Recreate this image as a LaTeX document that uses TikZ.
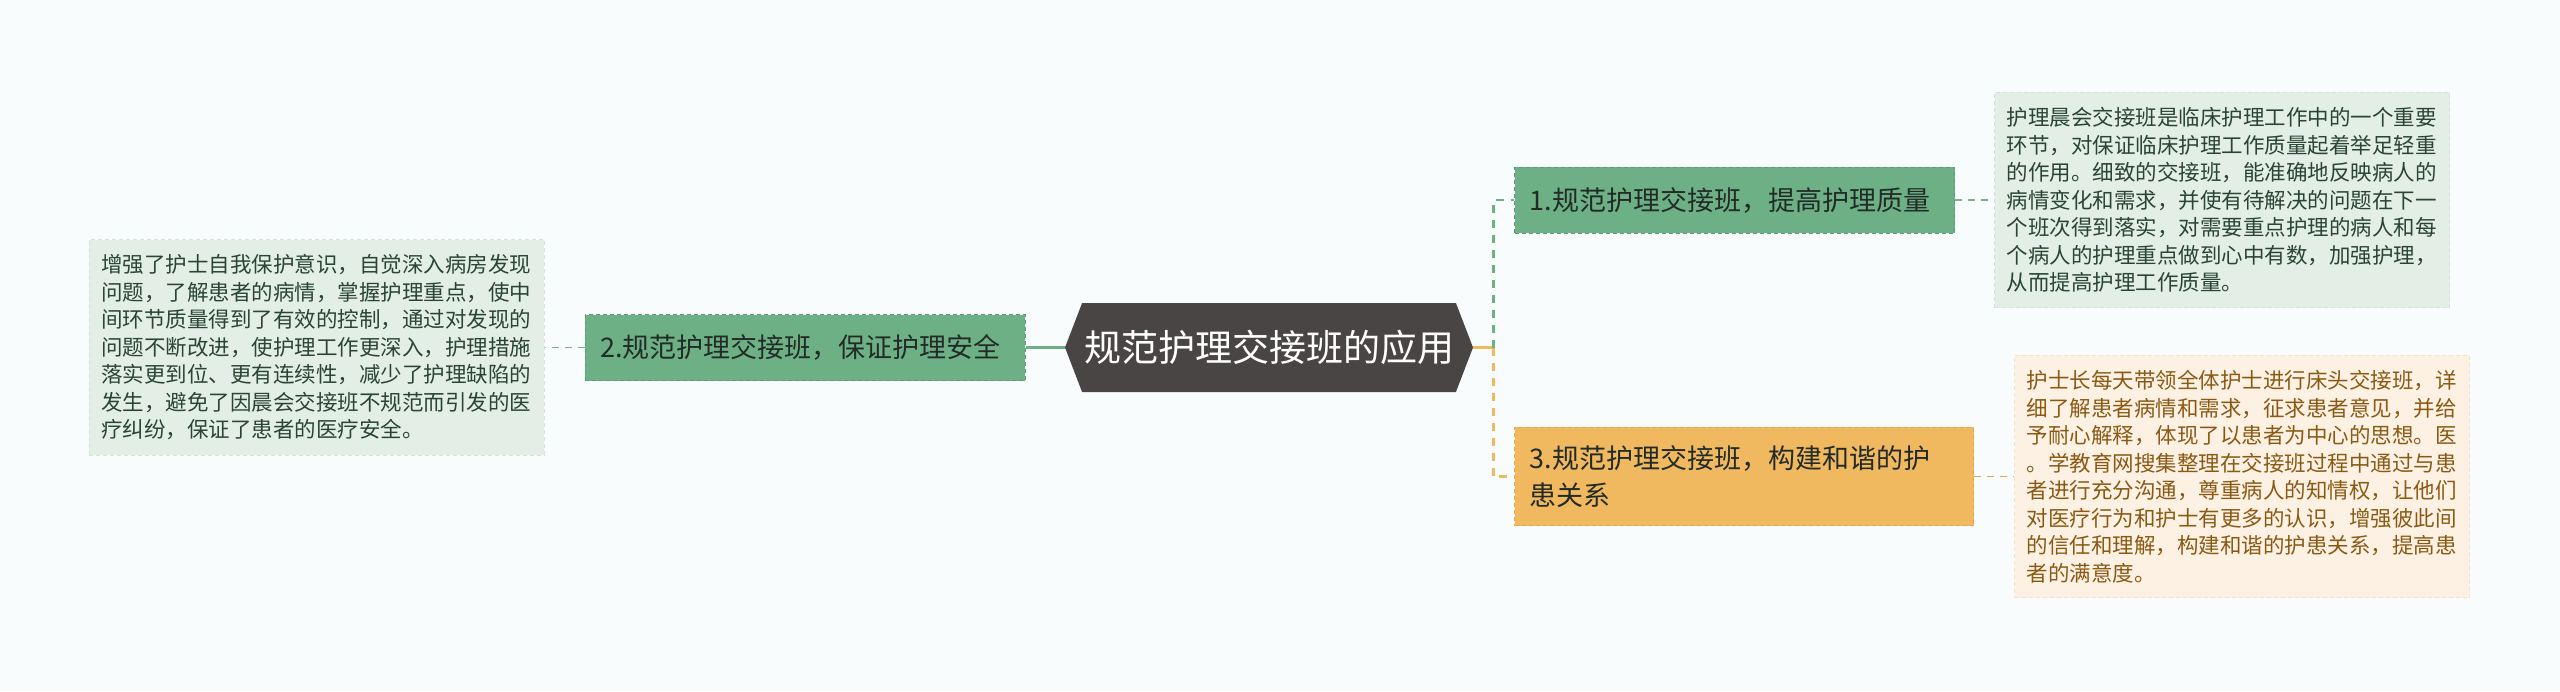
\documentclass[tikz,border=0pt]{standalone}
\usepackage{fontspec}
\setmainfont{Noto Sans CJK SC}
\usetikzlibrary{positioning,shapes.symbols,calc}
\definecolor{cbg}{HTML}{F9FCFD}
\definecolor{croot}{HTML}{4A4545}
\definecolor{cgreen}{HTML}{6DB086}
\definecolor{cgreenln}{HTML}{5E9C74}
\definecolor{cgleaf}{HTML}{E3EEE6}
\definecolor{cgleafln}{HTML}{D3E3D7}
\definecolor{cgtext}{HTML}{2A4533}
\definecolor{corange}{HTML}{F0B960}
\definecolor{corangeln}{HTML}{E2A64B}
\definecolor{coleaf}{HTML}{FDF1E4}
\definecolor{coleafln}{HTML}{F5E2CC}
\definecolor{cotext}{HTML}{8A5A14}
\definecolor{ctext}{HTML}{232B27}
\tikzset{
  rootbox/.style={shape=signal,signal to=west and east,signal pointer angle=138,fill=croot,text=white,
    minimum width=408pt,minimum height=89pt,inner sep=0pt,font=\fontsize{37pt}{44pt}\selectfont},
  topic/.style={draw=cgreenln,fill=cgreen,dash pattern=on 4pt off 3pt,line width=1pt,align=left,
    inner xsep=15pt,inner ysep=18pt,minimum height=66pt,text=ctext,font=\fontsize{27pt}{37pt}\selectfont},
  leaf/.style={draw=cgleafln,fill=cgleaf,dash pattern=on 4pt off 3pt,line width=1pt,align=left,text=cgtext,
    text width=431pt,inner xsep=12pt,inner ysep=15pt,font=\fontsize{21.5pt}{27.5pt}\selectfont},
  mainln/.style={line width=2.7pt},
  busdash/.style={line width=2.7pt,dash pattern=on 8pt off 7pt},
  leafln/.style={line width=1.7pt,dash pattern=on 7pt off 6pt}
}

\begin{document}
\begin{tikzpicture}[x=1pt,y=1pt]
  \fill[cbg] (0,0) rectangle (2560,-691);
  \node[rootbox] (root) at (1269,-347.5) {规范护理交接班的应用};
  \coordinate (bus) at ([xshift=20pt]root.east);
  \node[topic,text width=410pt,left=39pt of root] (t2) {2.规范护理交接班，保证护理安全};
  \node[topic,text width=410pt,anchor=west] (t1) at ($(bus)+(21,147.5)$) {1.规范护理交接班，提高护理质量};
  \node[topic,fill=corange,draw=corangeln,text width=429pt,anchor=west] (t3) at ($(bus)+(21,-129)$)
    {3.规范护理交接班，构建和谐的护\\患关系};
  \node[leaf,right=39pt of t1] (d1) {护理晨会交接班是临床护理工作中的一个重要\\
    环节，对保证临床护理工作质量起着举足轻重\\
    的作用。细致的交接班，能准确地反映病人的\\
    病情变化和需求，并使有待解决的问题在下一\\
    个班次得到落实，对需要重点护理的病人和每\\
    个病人的护理重点做到心中有数，加强护理，\\
    从而提高护理工作质量。};
  \node[leaf,left=40pt of t2] (d2) {增强了护士自我保护意识，自觉深入病房发现\\
    问题，了解患者的病情，掌握护理重点，使中\\
    间环节质量得到了有效的控制，通过对发现的\\
    问题不断改进，使护理工作更深入，护理措施\\
    落实更到位、更有连续性，减少了护理缺陷的\\
    发生，避免了因晨会交接班不规范而引发的医\\
    疗纠纷，保证了患者的医疗安全。};
  \node[leaf,fill=coleaf,draw=coleafln,text=cotext,right=40pt of t3] (d3) {护士长每天带领全体护士进行床头交接班，详\\
    细了解患者病情和需求，征求患者意见，并给\\
    予耐心解释，体现了以患者为中心的思想。医\\
    。学教育网搜集整理在交接班过程中通过与患\\
    者进行充分沟通，尊重病人的知情权，让他们\\
    对医疗行为和护士有更多的认识，增强彼此间\\
    的信任和理解，构建和谐的护患关系，提高患\\
    者的满意度。};
  % connectors
  \draw[mainln,cgreen] (root.west) -- (t2.east);
  \draw[mainln,corange] (root.east) -- (bus);
  \draw[busdash,cgreen] (bus) |- (t1.west);
  \draw[busdash,corange] (bus) |- (t3.west);
  \draw[leafln,cgreenln!80] (t1.east) -- (d1.west);
  \draw[leafln,cgreenln!80] (t2.west) -- (d2.east);
  \draw[leafln,corangeln] (t3.east) -- (d3.west);
\end{tikzpicture}
\end{document}
